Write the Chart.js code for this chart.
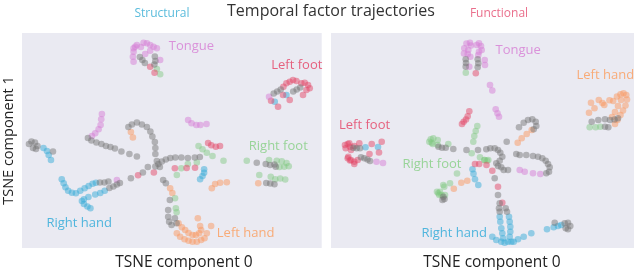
<!DOCTYPE html>
<html>
<head>
<meta charset="utf-8">
<script src="https://cdn.jsdelivr.net/npm/chart.js@4.4.1/dist/chart.umd.min.js"></script>
<style>
  body { margin: 0; background: #fff; font-family: "Open Sans", sans-serif; }
  #wrap { position: relative; width: 640px; height: 270px; }
  .box { position: absolute; top: 0; height: 270px; }
  .txt { position: absolute; white-space: nowrap; transform: translate(-50%, -50%); }
  .xlab { font-size: 15.5px; color: #222; top: 261px; }
</style>
</head>
<body>
<div id="wrap">
  <div class="box" style="left:0;width:325px"><canvas id="structural"></canvas></div>
  <div class="box" style="left:325px;width:315px"><canvas id="functional"></canvas></div>
  <div class="txt" style="left:331px;top:10px;font-size:16px;color:#333">Temporal factor trajectories</div>
  <div class="txt" style="left:162px;top:12px;font-size:12px;color:#5bbcdc">Structural</div>
  <div class="txt" style="left:499px;top:12px;font-size:12px;color:#ea6f8c">Functional</div>
  <div class="txt xlab" style="left:184px">TSNE component 0</div>
  <div class="txt xlab" style="left:492px">TSNE component 0</div>
</div>
<script>
// tsne embedding (component 0, component 1)
const structRest = [[140,57],[142.5,60],[145,63],[155,56.5],[155.5,61],[154.5,64.5],
  [274,93.5],[277.5,91.5],[281,89.5],[293.5,91.5],[297,89.5],[300.5,87.5],
  [29,144],[31.5,141.5],[35,142.5],[37.5,146],[36,149],[33,148],[53,151.5],
  [100,182.5],[104.5,182.5],[108.5,181.5],[109.5,188],[113.5,186.5],[117,184.5],[120,183],
  [88,138],[91.5,140.5],[96.5,142.5],[101.5,144],[106,146],[110.5,147],[115,148.5],[121.5,151.5],[129.5,154],[137,156.5],
  [128.5,127],[132,124.5],[137,122.5],[142,124.5],[147,127],[150.5,131.5],[152.5,136.5],[155,142],[155.5,148],[155.5,154],
  [155.5,166.5],[158.5,164],[162,161.5],[166,159.5],[170.5,158],[175.5,157.5],[181.5,157.5],[188,158],[195,157.5],[200,157],[157,161],[160,167],
  [148,167],[143,172.5],[131,178.3],
  [163.3,180],[166,183.3],[170,200],[168.3,210],[168.3,216.7],[169.3,221.7],[171.7,225],[175,218.3],[176.7,223.3],
  [257,162.7],[266,164],[270.3,165],[274.7,164.5],[276,166.7],[266.5,183],[270.5,183.5],[274.7,184.3]];
const structTongue = [[133.7,48.3],[133.7,51.7],[133,56.7],[133.7,61.7],[135.3,46.7],[137,45],[143.7,42.7],[147,43.3],[150.3,45],[153.7,46.7],[157,48.3],[150.3,50.7],[145.3,54],[160.3,60],[141,47],
  [102,114],[101.3,119.3],[100.7,125],[98.7,129.3],[95.3,133.3],[92,136],
  [188.3,120],[191.7,123.3],[196.5,125],[200.5,125],[206.7,124],
  [117,180],[269.3,96.7]];
const structLeftFoot = [[286.7,83.3],[290,81.7],[293.3,80],[296.7,81],[301.7,83.3],[305,82.7],[308.3,85],[310,88.3],[306.7,90],[303.3,95],[290,100],[283.3,95],[278.3,106.7],[271.3,100.7],[283.7,86.7],
  [150.3,66.7],[154.7,72.7],
  [208.3,143],[211.5,145.3],[216,146.7],[220.2,146],
  [175,168.3],[186.8,168],[195.2,167.8],[154,172.5],[138.2,175.2]];
const structRightFoot = [[157,69],[160.3,74.3],
  [198.7,146],[202.7,149.3],[207,152.7],[212.7,156],[223.7,160.7],
  [181.5,168.3],[188,164],[197,162.5],[177,175],
  [247,160.7],[269.3,160],[277,160.7],[282,161.2],[286.8,163],[289,166.3],[284.5,166.7],[279.7,167],[259.5,175],[271,176.7],[275.5,179.3],[280.5,178.5],[285.5,179.5],
  [175.2,198.3],[176,208.3],[176.8,212.2]];
const structRightHand = [[43.5,148],[47,151],[48.7,155],[51,160],
  [61.8,179.3],[63.7,183.3],[65.5,187.3],[68.2,190.7],[72,192.7],[76,193.2],[80.3,190.7],[84.7,188.3],[88.7,186],[92.7,183.8],[96,182.7],
  [82,201],[84,204],[87.5,206.5],[90.5,208.3],[84,199.3],[88.5,197],[95.3,194.5],[100.3,193],[104.8,190.7],
  [200.3,179.3],[202.7,176],[204.3,172.7],[204.3,169.3],
  [286.7,95],[275,101.7]];
const structLeftHand = [[131,132],[133,137.5],[170.3,188.3],[172.5,193],
  [212,188.3],[215.3,184],[220.3,182.7],[227,182.3],[258.5,183.3],
  [178.7,223.3],[182,227.3],[185.3,230],[188.7,233],[192.7,235],[196,235],[199.3,233.3],[201.3,230],[200.3,226],[198,218.3],
  [177,233.3],[180.3,236.7],[184.7,239.3],[188.7,240.7],[192.7,241.7],[197,241.7],[201.3,240],[204.7,238.3],[207,233.3],[211.3,226]];

const funcRest = [[465.7,59.3],[466,63],[465.7,66.7],[477.7,59.3],[478.3,63.3],[477.7,67.3],
  [353.3,147.7],[356.7,148.3],[360,148.3],[361,157.3],[364.3,158.3],[367.5,159.5],[370,161],
  [438.5,146.7],[442,147.7],[445.7,147.7],[453.3,149],[466.5,150],[478,150],
  [443.3,196.7],[444.5,199],[442.5,200],
  [486.3,149.3],[490.3,148.3],[494.7,148.3],[498,150],[500.3,152.7],[502.3,156.7],[499.7,160.7],[496.3,163.3],[498,166],[501.3,167.3],[503.7,170],[508,170],
  [494.7,178.3],[498,195],[499.7,203.3],[499,208.3],[499.7,211.7],[505.7,208.3],[507,211.7],
  [519,127.3],[523.7,122.7],[528,120],[532.3,119.3],[535.7,121.7],[536.3,126],[533.7,129.3],[506.7,141.7],
  [516.3,154],[519.7,155],[526.3,155],[533,156],[538,156.7],[542.3,158.3],[545.7,160.7],[548,164],[549.7,167.3],[549,171.7],[546.3,173.3],
  [554.7,222.7],[564.7,223.3],[568,222.7],[570.3,226],[568,229.3],[565.7,228.3],
  [591.7,121.7],[598.3,120],[605,119.3],[610,120],[614.5,119.5],[618,118.3],[608.3,127.3],[605,126.7]];
const funcTongue = [[466.5,43.5],[470,42.7],[471,45.5],[468.3,50],[464.3,48.3],[464,53.5],[467.7,54],[470.3,56.7],[469.3,66.7],
  [476.7,45],[479,43.3],[481,46],[481.7,50],[479,51.7],[478.3,55],[484.7,60],[485,65],
  [490,85],[492.3,90.5],[495.7,109.3],[497.5,113.3],[499,116.7],
  [376.5,161.7],[383,163],
  [519.7,170],[524.7,171.7],[533,173.3],[540.3,174]];
const funcLeftFoot = [[345,145],[345.7,148.3],[347.7,144],[350,146.7],[351,150],[349.3,143.3],[354.3,146],[359.3,143.3],[371.7,144],[381.7,141.7],[379,152.5],[369.5,154],
  [347.7,158.3],[348.3,156.7],[351,160],[354.3,161.7],[357.7,160],[354.3,164],[350,160.5],
  [475.8,73.3],
  [469.3,111.3],[467.7,116.3],[466,119.5],[463.7,121.7],[462,124],
  [475,164],[479.2,164],[486.5,165],[492.3,170.7],[498,186.7],[502.3,202.7]];
const funcRightFoot = [[465.8,72.7],
  [477.3,126],[475.7,131],[474.3,136],[473.3,141.7],[471.7,153.3],
  [480,157.3],[484.3,160],[488.3,160],[484.7,160],[487,160.7],
  [430.7,139.3],[433.3,138.3],[431.7,142.7],[437.7,140],[448.3,144],[429.3,141.7],[432.7,144],[437.7,145],
  [457,173.5],
  [443.3,185],[440,191.7],[438.3,193.3],[441.7,195],[445,195],[437,191.7],[439.3,195],[444.3,186.7],[450,183.3],
  [589.7,127.3],[595.7,127.3],[600.3,126.7]];
const funcRightHand = [[365.5,147.3],[378,147],
  [472.5,169.3],[473.5,173.7],[475,179.3],[478.3,185],
  [499.7,216.7],[500.3,221.7],[501.3,228.3],[502.3,233.3],[503,238.3],
  [509,216.7],[509.7,221.7],[510.3,226.7],[510.3,231.7],[509.7,236.7],[511.3,241.7],
  [492.3,236.7],[496.3,240],[501.3,241.7],[504.7,242.7],[508,241.7],[513.7,241.7],[518,239.3],[523.7,236.7],[531.3,233.3],[547,229.3],[553.7,227.3],[558,226],[561.3,225]];
const funcLeftHand = [[531.7,130],[526.7,134],[521.7,138.3],[517.7,142.7],
  [453.8,188.8],[461.3,182.7],[467.3,180.7],
  [591,102.7],[594.5,108.3],[589,112.7],[598.8,100],[602.5,103],[604.3,105],[609.5,100.3],[613.2,101],[617,96.5],[620.5,94.2],[623.5,93.3],[626.3,95],[627,99.5],[625.5,105.5],[623,110.5],[620.5,115],[617.5,120],[615,124],[612,117],[615,112],[618,106],[621,100]];

const movements = ['Tongue', 'Left foot', 'Right foot', 'Right hand', 'Left hand'];
// where each movement name sits in the embedding
const structLabelPos = [[169,46],[271.5,65],[249,146],[46.5,223],[217,233]];
const funcLabelPos = [[495.5,50],[339,125],[402.5,164],[421.5,233],[576.5,75.5]];

const pointColors = {
  'Rest': 'rgba(115,115,115,0.48)',
  'Tongue': 'rgba(214,125,214,0.5)',
  'Left foot': 'rgba(228,72,104,0.5)',
  'Right foot': 'rgba(125,200,125,0.45)',
  'Right hand': 'rgba(55,172,215,0.5)',
  'Left hand': 'rgba(250,152,95,0.5)'
};
const textColors = {
  'Tongue': '#da92da',
  'Left foot': '#e6617f',
  'Right foot': '#98d498',
  'Right hand': '#4fb5dd',
  'Left hand': '#f8ab78'
};

const panelBg = {
  id: 'panelBg',
  beforeDraw(chart) {
    const a = chart.chartArea;
    const c = chart.ctx;
    c.save();
    c.fillStyle = '#eaeaf2';
    c.fillRect(a.left, a.top, a.right - a.left, a.bottom - a.top);
    c.restore();
  }
};

const moveLabels = {
  id: 'moveLabels',
  afterDatasetsDraw(chart, args, opts) {
    const c = chart.ctx;
    c.save();
    c.font = '13px "Open Sans"';
    c.textAlign = 'left';
    c.textBaseline = 'middle';
    opts.names.forEach((name, i) => {
      c.fillStyle = textColors[name];
      c.fillText(name, chart.scales.x.getPixelForValue(opts.pos[i][0]), chart.scales.y.getPixelForValue(opts.pos[i][1]));
    });
    c.restore();
  }
};

function makeSets(rest, groups) {
  const sets = [{ label: 'Rest', data: rest }];
  movements.forEach((m, i) => sets.push({ label: m, data: groups[i] }));
  return sets.map(s => ({
    ...s,
    backgroundColor: pointColors[s.label],
    borderWidth: 0,
    pointRadius: 3.3,
    pointHoverRadius: 3.3
  }));
}

function makeChart(id, sets, xr, pos, showY, pad) {
  return new Chart(document.getElementById(id), {
    type: 'scatter',
    data: { datasets: sets },
    plugins: [panelBg, moveLabels],
    options: {
      responsive: true,
      maintainAspectRatio: false,
      animation: false,
      layout: { padding: pad },
      plugins: { legend: { display: false }, tooltip: { enabled: false }, moveLabels: { names: movements, pos: pos } },
      scales: {
        x: {
          type: 'linear', min: xr[0], max: xr[1],
          grid: { display: false }, border: { display: false }, ticks: { display: false },
          afterFit(s) { s.height = 22; }
        },
        y: {
          type: 'linear', min: 33, max: 248, reverse: true,
          display: showY,
          grid: { display: false }, border: { display: false }, ticks: { display: false },
          title: { display: showY, text: 'TSNE component 1', color: '#222', font: { family: 'Open Sans', size: 14.5 }, padding: { top: 0, bottom: 0 } },
          afterFit(s) { s.width = showY ? 22 : 0; }
        }
      }
    }
  });
}

makeChart('structural',
  makeSets(structRest, [structTongue, structLeftFoot, structRightFoot, structRightHand, structLeftHand]),
  [22, 322], structLabelPos, true, { top: 33, right: 3, left: 0, bottom: 0 });
makeChart('functional',
  makeSets(funcRest, [funcTongue, funcLeftFoot, funcRightFoot, funcRightHand, funcLeftHand]),
  [331, 634], funcLabelPos, false, { top: 33, right: 6, left: 6, bottom: 0 });
</script>
</body>
</html>
